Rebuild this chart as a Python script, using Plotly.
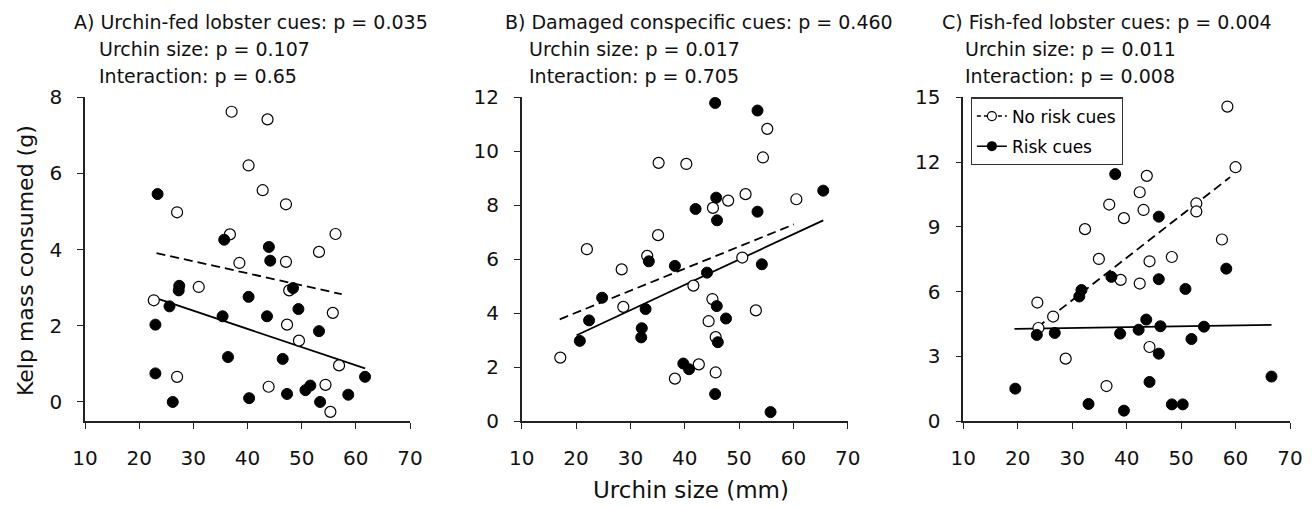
import plotly.graph_objects as go

# ---------------- data ----------------
# Panel A: Urchin-fed lobster cues
a_norisk_x = [37.06, 43.7, 40.2, 42.8, 47.1, 27.0, 36.75, 56.25, 53.2, 38.5, 47.1, 31.0,
              47.7, 22.7, 55.75, 47.3, 49.5, 56.9, 27.0, 43.9, 54.4, 55.3]
a_norisk_y = [7.62, 7.42, 6.21, 5.56, 5.19, 4.98, 4.40, 4.41, 3.94, 3.65, 3.68, 3.02,
              2.93, 2.67, 2.34, 2.03, 1.61, 0.96, 0.66, 0.40, 0.45, -0.26]
a_risk_x = [23.4, 35.7, 43.95, 44.2, 27.4, 27.3, 40.2, 48.4, 49.4, 25.6, 23.0, 35.4,
            43.6, 53.2, 36.4, 46.5, 23.0, 26.2, 40.3, 47.3, 50.7, 51.6, 53.4, 58.6, 61.7]
a_risk_y = [5.46, 4.26, 4.07, 3.71, 3.05, 2.93, 2.76, 2.99, 2.44, 2.51, 2.03, 2.25,
            2.25, 1.86, 1.18, 1.13, 0.75, 0.0, 0.10, 0.21, 0.31, 0.43, 0.0, 0.19, 0.66]
a_fit_norisk_x = [23.2, 57.4]
a_fit_norisk_y = [3.91, 2.83]
a_fit_risk_x = [23.65, 61.7]
a_fit_risk_y = [2.70, 0.88]

# Panel B: Damaged conspecific cues
b_norisk_x = [17.1, 22.0, 28.4, 28.7, 33.1, 35.1, 35.2, 40.3, 38.2, 42.6, 41.6, 45.2,
              48.0, 45.1, 44.4, 45.7, 45.7, 50.6, 51.2, 53.1, 54.4, 55.2, 60.55]
b_norisk_y = [2.35, 6.37, 5.62, 4.23, 6.12, 6.89, 9.57, 9.53, 1.57, 2.10, 5.02, 7.90,
              8.17, 4.52, 3.70, 3.11, 1.80, 6.06, 8.41, 4.10, 9.77, 10.83, 8.22]
b_risk_x = [20.7, 22.4, 24.8, 32.1, 32.0, 32.8, 33.4, 38.2, 39.75, 40.8, 42.0, 44.1,
            45.6, 45.8, 45.95, 45.9, 46.1, 47.6, 45.6, 53.4, 53.4, 54.2, 55.8, 65.5]
b_risk_y = [2.97, 3.73, 4.57, 3.44, 3.10, 4.15, 5.92, 5.75, 2.13, 1.92, 7.86, 5.50,
            11.79, 8.28, 7.44, 4.26, 2.92, 3.80, 1.00, 11.51, 7.76, 5.81, 0.33, 8.54]
b_fit_norisk_x = [17.0, 60.1]
b_fit_norisk_y = [3.77, 7.29]
b_fit_risk_x = [20.1, 65.5]
b_fit_risk_y = [3.18, 7.44]

# Panel C: Fish-fed lobster cues
c_norisk_x = [58.5, 60.0, 43.7, 42.4, 36.8, 43.1, 39.5, 52.8, 52.8, 32.35, 57.5, 34.9,
              44.2, 48.3, 38.9, 42.4, 23.6, 26.5, 23.8, 44.2, 28.8, 36.3]
c_norisk_y = [14.57, 11.76, 11.36, 10.60, 10.03, 9.78, 9.40, 10.08, 9.71, 8.89, 8.41, 7.51,
              7.40, 7.60, 6.54, 6.37, 5.49, 4.84, 4.31, 3.43, 2.89, 1.62]
c_risk_x = [19.55, 23.5, 26.8, 31.3, 31.7, 33.0, 37.9, 37.2, 38.8, 39.5, 42.2, 43.6,
            44.2, 45.9, 45.9, 46.2, 45.9, 48.3, 50.3, 50.8, 51.9, 54.2, 58.3, 66.6]
c_risk_y = [1.50, 3.99, 4.08, 5.77, 6.07, 0.79, 11.44, 6.68, 4.05, 0.48, 4.23, 4.70,
            1.81, 9.47, 6.57, 4.39, 3.12, 0.77, 0.77, 6.12, 3.80, 4.37, 7.06, 2.06]
c_fit_norisk_x = [23.6, 59.0]
c_fit_norisk_y = [4.34, 11.3]
c_fit_risk_x = [19.4, 66.6]
c_fit_risk_y = [4.27, 4.45]

panel_titles = [
    ["A) Urchin-fed lobster cues: p = 0.035", "Urchin size: p = 0.107", "Interaction: p = 0.65"],
    ["B) Damaged conspecific cues: p = 0.460", "Urchin size: p = 0.017", "Interaction: p = 0.705"],
    ["C) Fish-fed lobster cues: p = 0.004", "Urchin size: p = 0.011", "Interaction: p = 0.008"],
]
x_ticks = [10, 20, 30, 40, 50, 60, 70]
y_ticks = [[0, 2, 4, 6, 8], [0, 2, 4, 6, 8, 10, 12], [0, 3, 6, 9, 12, 15]]
y_ranges = [[-0.5, 8], [0, 12], [0, 15]]
y_title = "Kelp mass consumed (g)"
x_title = "Urchin size (mm)"
legend_names = ["No risk cues", "Risk cues"]

# ---------------- layout geometry ----------------
W, H = 1312, 507
OFF = 8  # page body margin in the browser


def px_x(p):
    return (p - OFF) / W


def px_y(p):
    return 1 - (p - OFF) / H


FONT = "DejaVu Sans, Liberation Sans, Arial, sans-serif"
x_px = [(85, 410), (521.7, 847.7), (963.3, 1290)]
y_px = (97.3, 421)
title_x_px = [(71.7, 97.3), (503.3, 527.3), (940, 963)]
title_y_px = [22, 49, 76]

fig = go.Figure()

panels = [
    (a_norisk_x, a_norisk_y, a_risk_x, a_risk_y, a_fit_norisk_x, a_fit_norisk_y, a_fit_risk_x, a_fit_risk_y),
    (b_norisk_x, b_norisk_y, b_risk_x, b_risk_y, b_fit_norisk_x, b_fit_norisk_y, b_fit_risk_x, b_fit_risk_y),
    (c_norisk_x, c_norisk_y, c_risk_x, c_risk_y, c_fit_norisk_x, c_fit_norisk_y, c_fit_risk_x, c_fit_risk_y),
]

DASH = "9px,5px"
for i, (nx, ny, rx, ry, fnx, fny, frx, fry) in enumerate(panels):
    xa = "x" if i == 0 else f"x{i+1}"
    ya = "y" if i == 0 else f"y{i+1}"
    fig.add_trace(go.Scatter(x=fnx, y=fny, mode="lines", xaxis=xa, yaxis=ya, showlegend=False,
                             line=dict(color="black", width=1.8, dash=DASH), hoverinfo="skip"))
    fig.add_trace(go.Scatter(x=frx, y=fry, mode="lines", xaxis=xa, yaxis=ya, showlegend=False,
                             line=dict(color="black", width=1.8), hoverinfo="skip"))
    fig.add_trace(go.Scatter(x=nx, y=ny, mode="markers", xaxis=xa, yaxis=ya, showlegend=False,
                             cliponaxis=False,
                             marker=dict(symbol="circle", size=11, color="white",
                                         line=dict(color="black", width=1.2))))
    fig.add_trace(go.Scatter(x=rx, y=ry, mode="markers", xaxis=xa, yaxis=ya, showlegend=False,
                             cliponaxis=False,
                             marker=dict(symbol="circle", size=11, color="black",
                                         line=dict(color="black", width=1))))

# legend entries (panel C)
fig.add_trace(go.Scatter(x=[None], y=[None], mode="lines+markers", xaxis="x3", yaxis="y3",
                         name=legend_names[0], legendgroup="g1",
                         line=dict(color="black", width=1.5, dash="4px,3px"),
                         marker=dict(size=9, color="white", line=dict(color="black", width=1.2))))
fig.add_trace(go.Scatter(x=[None], y=[None], mode="lines+markers", xaxis="x3", yaxis="y3",
                         name=legend_names[1], legendgroup="g2",
                         line=dict(color="black", width=1.5),
                         marker=dict(size=10, color="black")))

axis_common = dict(showline=True, linecolor="#222", linewidth=1.5, ticks="outside", ticklen=6,
                   tickwidth=1.3, tickcolor="#222", showgrid=False, zeroline=False,
                   automargin=False, fixedrange=True,
                   tickfont=dict(family=FONT, size=20, color="#111"))

layout = dict(width=W, height=H, margin=dict(l=0, r=0, t=0, b=0, autoexpand=False),
              plot_bgcolor="white", paper_bgcolor="white", showlegend=True,
              font=dict(family=FONT, color="black"))
ydom = [px_y(y_px[1]), px_y(y_px[0])]
for i in range(3):
    sx = "" if i == 0 else str(i + 1)
    layout["xaxis" + sx] = dict(axis_common, domain=[px_x(x_px[i][0]), px_x(x_px[i][1])],
                                range=[10, 70], tickvals=x_ticks, anchor="y" + sx,
                                ticklabelstandoff=12)
    layout["yaxis" + sx] = dict(axis_common, domain=ydom, range=y_ranges[i],
                                tickvals=y_ticks[i], anchor="x" + sx, ticklabelstandoff=11)
fig.update_layout(**layout)

fig.update_layout(legend=dict(x=px_x(970.7), y=px_y(97.3), xanchor="left", yanchor="top",
                              bgcolor="white", bordercolor="#333", borderwidth=1.2,
                              font=dict(family=FONT, size=17, color="black"),
                              itemwidth=30, tracegroupgap=5))

anns = []
for i, lines in enumerate(panel_titles):
    for j, t in enumerate(lines):
        anns.append(dict(text=t, xref="paper", yref="paper",
                         x=px_x(title_x_px[i][0] if j == 0 else title_x_px[i][1]),
                         y=px_y(title_y_px[j]), xanchor="left", yanchor="middle",
                         showarrow=False, font=dict(family=FONT, size=19, color="#111")))
anns.append(dict(text=y_title, xref="paper", yref="paper", x=px_x(25), y=px_y(261),
                 textangle=-90, showarrow=False, xanchor="center", yanchor="middle",
                 font=dict(family=FONT, size=22, color="#111")))
anns.append(dict(text=x_title, xref="paper", yref="paper", x=px_x(691), y=px_y(490),
                 showarrow=False, xanchor="center", yanchor="middle",
                 font=dict(family=FONT, size=23, color="#111")))
fig.update_layout(annotations=anns)

fig.write_html("out.html")
